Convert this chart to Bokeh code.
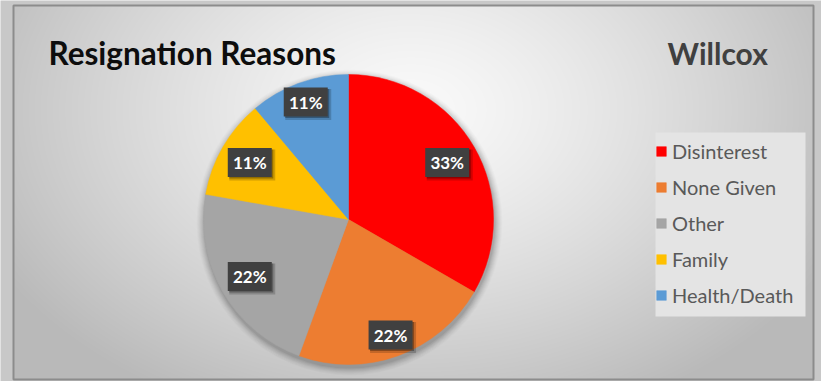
import numpy as np
from bokeh.plotting import figure
from bokeh.models import Range1d, ColumnDataSource
from bokeh.core.properties import value
from bokeh.embed import file_html
from bokeh.resources import INLINE

# ---- data ----
categories = ["Disinterest", "None Given", "Other", "Family", "Health/Death"]
counts = [3, 2, 2, 1, 1]
colors = ["#FF0000", "#ED7D31", "#A5A5A5", "#FFC000", "#5B9BD5"]
title_text = "Resignation Reasons"
subtitle_text = "Willcox"

# ---- layout (data x = screen x, data y = 381 - screen y) ----
W, H = 821, 381
p = figure(width=W, height=H, x_range=Range1d(0, W), y_range=Range1d(0, H),
           output_backend="svg", toolbar_location=None, min_border=0,
           x_axis_location=None, y_axis_location=None)
p.grid.visible = False
p.outline_line_color = None
p.background_fill_color = "#c8c8c8"
p.border_fill_color = "#c8c8c8"

# background radial gradient for chart area
x0, x1, y0, y1 = 13, 813, 2, 376
nx, ny = x1 - x0, y1 - y0
xs = np.arange(nx) + x0
ys = np.arange(ny) + y0
X, Y = np.meshgrid(xs, ys)
SY = H - Y
d = np.sqrt(((X - 410) / 430.0) ** 2 + ((SY - 110) / 300.0) ** 2)
v = np.clip(250 - 57 * d ** 1.3, 185, 252).astype(np.uint32)
img = (255 << 24) | (v << 16) | (v << 8) | v
p.image_rgba(image=[img.astype(np.uint32)], x=x0, y=y0, dw=nx, dh=ny)
p.quad(left=[x0], right=[x1], bottom=[y0], top=[y1], fill_color=None,
       line_color="#8c8c8c", line_width=2)

# legend panel background
p.quad(left=[655], right=[805], bottom=[H - 316], top=[H - 132],
       fill_color="#e4e4e4", line_color=None)

# pie geometry
cx, cy, R = 348, H - 219, 145
vals = np.array(counts, dtype=float)
fracs = vals / vals.sum()
cum = np.cumsum(fracs)
start = np.pi / 2 - 2 * np.pi * (cum - fracs)
end = np.pi / 2 - 2 * np.pi * cum
mid = (start + end) / 2

# soft shadow around pie
for k, a in zip(range(8, 0, -1), [0.015, 0.02, 0.025, 0.03, 0.035, 0.04, 0.05, 0.06]):
    p.circle(x=[cx + 1], y=[cy - 3], radius=R + k, fill_color="black",
             fill_alpha=a, line_color=None)

src = ColumnDataSource(dict(cat=categories, start=start, end=end, color=colors))
p.wedge(x=cx, y=cy, radius=R, start_angle="start", end_angle="end",
        direction="clock", fill_color="color", line_color="color", line_width=0.5,
        source=src, legend_field="cat")

# data labels
label_r = np.array([114, 123, 114, 114, 125])
lx = cx + label_r * np.cos(mid)
ly = cy + label_r * np.sin(mid)
labels = [f"{round(100 * f)}%" for f in fracs]
p.rect(x=lx + 2.5, y=ly - 2.5, width=46, height=31, fill_color="black",
       fill_alpha=0.18, line_color=None)
p.rect(x=lx + 1.5, y=ly - 1.5, width=44, height=29, fill_color="black",
       fill_alpha=0.3, line_color=None)
p.rect(x=lx, y=ly, width=44, height=29, fill_color="#404040", line_color=None)
p.text(x=lx, y=ly, text=labels, text_align="center", text_baseline="middle",
       text_font=value("Lato"), text_font_style="bold", text_font_size="17px",
       text_color="white")

# titles
p.text(x=[48], y=[H - 52], text=[title_text], text_align="left",
       text_baseline="alphabetic", text_font=value("Lato"), text_font_style="bold",
       text_font_size="31.5px", text_color="#0d0d0d")
p.text(x=[667], y=[H - 52], text=[subtitle_text], text_align="left",
       text_baseline="alphabetic", text_font=value("Lato"), text_font_style="bold",
       text_font_size="30px", text_color="#404040")

# legend
lg = p.legend[0]
lg.location = (655, H - 307)
lg.label_text_font = "Lato"
lg.label_text_font_size = "20px"
lg.label_text_color = "#595959"
lg.glyph_width = 12
lg.glyph_height = 12
lg.label_standoff = 5
lg.label_height = 20
lg.spacing = 12
lg.padding = 10
lg.margin = 0
lg.background_fill_alpha = 0
lg.border_line_color = None

open("out.html", "w").write(file_html(p, INLINE))
